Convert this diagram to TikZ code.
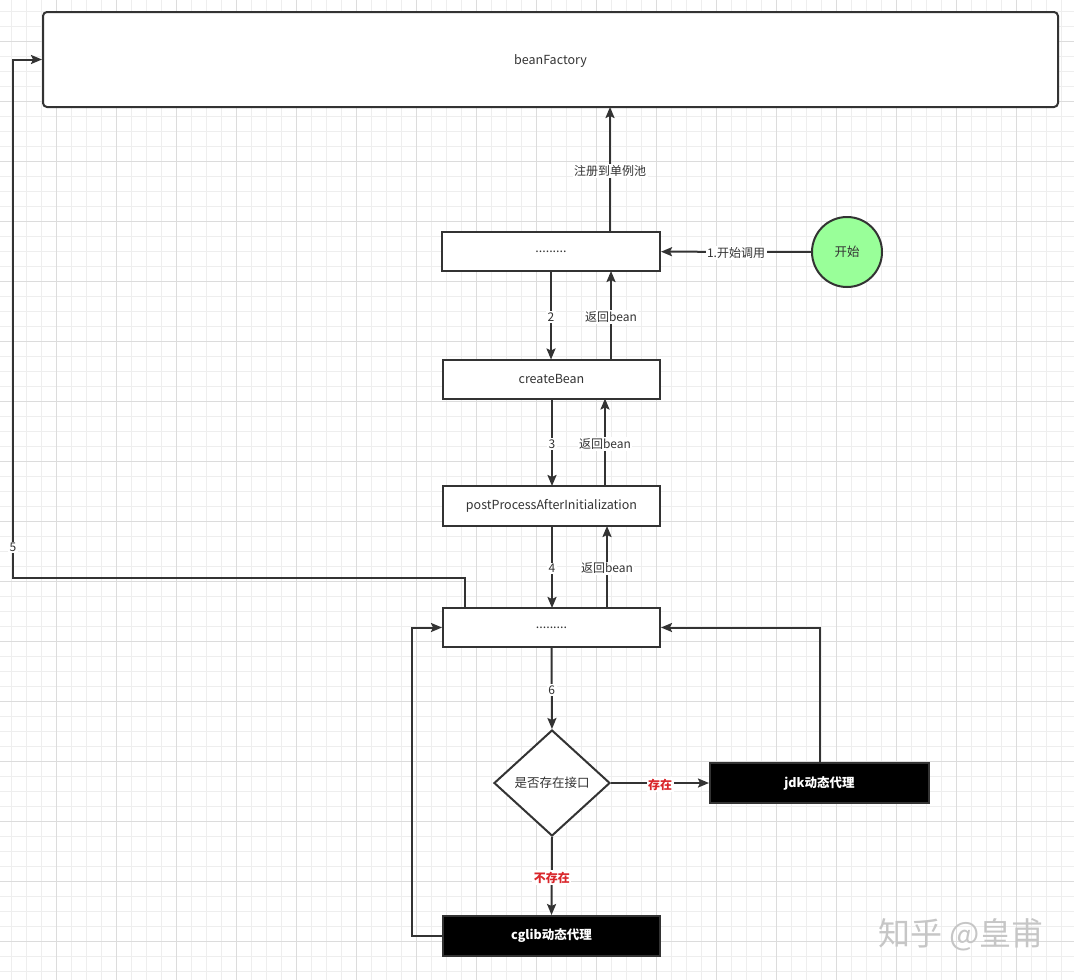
\documentclass[tikz,border=0pt]{standalone}
\usepackage{fontspec}
\setmainfont{Noto Sans CJK SC}
\usetikzlibrary{arrows.meta,shapes.geometric}
\definecolor{ln}{HTML}{333333}
\definecolor{gmin}{HTML}{EEEEEE}
\definecolor{gmaj}{HTML}{DCDCDC}
\definecolor{startg}{HTML}{99FF99}
\definecolor{lblred}{HTML}{D9262B}
\begin{document}
\begin{tikzpicture}[x=1pt,y=-1pt,
  box/.style={draw=ln,line width=2pt,fill=white,minimum width=218pt,minimum height=39pt,inner sep=0pt,text=ln,font=\fontsize{12.5}{15}\selectfont},
  blackbox/.style={box,fill=black,text=white,font=\fontsize{12.5}{15}\selectfont\bfseries},
  conn/.style={draw=ln,line width=2pt,-{Stealth[length=11pt,width=9pt,inset=2pt]}},
  lbl/.style={fill=white,inner sep=1.5pt,text=ln,font=\fontsize{12}{14}\selectfont,yshift=-1.5pt},
  redlbl/.style={lbl,text=lblred,font=\fontsize{12}{14}\selectfont\bfseries}]
\useasboundingbox (0,0) rectangle (1074,980);
\fill[white] (0,0) rectangle (1074,980);
% grid
\foreach \k in {0,...,70} \draw[gmin,line width=0.8pt] ({11.7+15*\k},0) -- ({11.7+15*\k},980);
\foreach \k in {0,...,64} \draw[gmin,line width=0.8pt] (0,{11.7+15*\k}) -- (1074,{11.7+15*\k});
\foreach \k in {0,...,16} \draw[gmaj,line width=0.8pt] ({56.7+60*\k},0) -- ({56.7+60*\k},980);
\foreach \k in {0,...,15} \draw[gmaj,line width=0.8pt] (0,{41.7+60*\k}) -- (1074,{41.7+60*\k});

% nodes
\node[box,rounded corners=4pt,minimum width=1015pt,minimum height=95pt,text depth=-1pt] (bf) at (550.5,59.5) {beanFactory};
\node[box] (b1) at (551,251.5) {.........};
\node[circle,draw=ln,fill=startg,line width=2pt,minimum size=70pt,inner sep=0pt,text=ln,font=\fontsize{12.5}{15}\selectfont] (st) at (847,252) {开始};
\node[box,minimum width=217pt] (cb) at (551.5,379) {createBean};
\node[box,minimum width=217pt,minimum height=40pt] (pp) at (551.5,506) {postProcessAfterInitialization};
\node[box,minimum width=217pt] (b4) at (551.5,627.5) {.........};
\node[diamond,draw=ln,fill=white,line width=2pt,minimum width=116pt,minimum height=106pt,inner sep=0pt,text=ln,font=\fontsize{12.5}{15}\selectfont] (dm) at (552,783) {是否存在接口};
\node[blackbox,minimum width=219pt,minimum height=40pt] (jdk) at (819.5,783) {jdk动态代理};
\node[blackbox,minimum width=217pt,minimum height=40pt] (cg) at (551.5,936) {cglib动态代理};
\node[text=gray!45,font=\fontsize{32}{36}\selectfont] (wm) at (961,935) {知乎 @皇甫};

% helper coordinates
\coordinate (r0a) at (610,232);
\coordinate (r0b) at (610,107);
\coordinate (d2a) at (551,271);
\coordinate (d2b) at (551,359.5);
\coordinate (r2a) at (611,359.5);
\coordinate (r2b) at (611,271);
\coordinate (d3a) at (552,398.5);
\coordinate (d3b) at (552,486);
\coordinate (r3a) at (605,486);
\coordinate (r3b) at (605,398.5);
\coordinate (d4a) at (552,526);
\coordinate (d4b) at (552,608);
\coordinate (r4a) at (607,608);
\coordinate (r4b) at (607,526);
\coordinate (p5) at (465,608);
\coordinate (c5a) at (13,578);
\coordinate (c5b) at (13,59.5);
\coordinate (cgl) at (412,936);

% connectors
\draw[conn] (r0a) -- node[lbl]{注册到单例池} (r0b);
\draw[conn] (st) -- node[lbl]{1.开始调用} (b1);
\draw[conn] (d2a) -- node[lbl]{2} (d2b);
\draw[conn] (r2a) -- node[lbl]{返回bean} (r2b);
\draw[conn] (d3a) -- node[lbl]{3} (d3b);
\draw[conn] (r3a) -- node[lbl]{返回bean} (r3b);
\draw[conn] (d4a) -- node[lbl]{4} (d4b);
\draw[conn] (r4a) -- node[lbl]{返回bean} (r4b);
\draw[conn] (p5) |- (c5a) -- node[lbl,pos=0.062]{5} (c5b) -- (bf.west);
\draw[conn] (b4.south) -- node[lbl]{6} (dm.north);
\draw[conn] (dm.east) -- node[redlbl]{存在} (jdk.west);
\draw[conn] (dm.south) -- node[redlbl]{不存在} (cg.north);
\draw[conn] (jdk.north) |- (b4.east);
\draw[conn] (cg.west) -- (cgl) |- (b4.west);
\end{tikzpicture}
\end{document}
